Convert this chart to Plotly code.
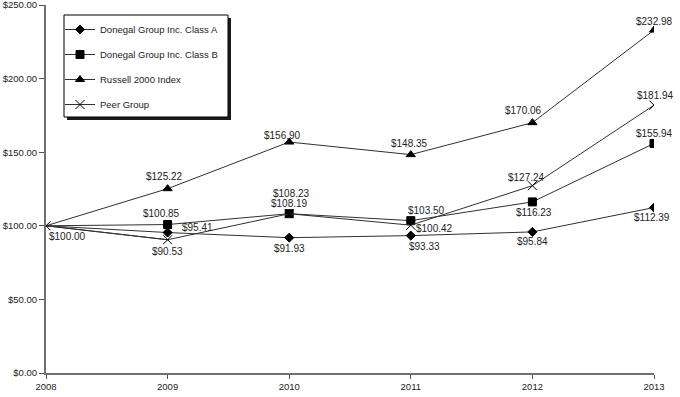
import plotly.graph_objects as go

years = [2008, 2009, 2010, 2011, 2012, 2013]
series_names = ["Donegal Group Inc. Class A", "Donegal Group Inc. Class B",
                "Russell 2000 Index", "Peer Group"]
class_a = [100.00, 95.41, 91.93, 93.33, 95.84, 112.39]
class_b = [100.00, 100.85, 108.23, 103.50, 116.23, 155.94]
russell = [100.00, 125.22, 156.90, 148.35, 170.06, 232.98]
peer = [100.00, 90.53, 108.19, 100.42, 127.24, 181.94]
y_ticks = [0, 50, 100, 150, 200, 250]

series_values = [class_a, class_b, russell, peer]

# styling / label placement (pixel offsets, dy positive = down; None = no label)
symbols = ["diamond", "square", "triangle-up", "x-thin-open"]
sizes = [7, 8, 8, 9]
label_offsets = [
    [None, (30, -5), (0, 11), (14, 11), (0, 10), (-2, 10)],
    [(21, 11), (-6, -11), (2, -20), (16, -10), (2, 11), (0, -10)],
    [None, (-3, -12), (-7, -7), (-1, -11), (-9, -12), (0, -9)],
    [None, (0, 12), (0, -10), (24, 3), (-6, -8), (1, -10)],
]

L, R, T, B = 46, 26, 5, 24
W, H = 680, 397
PW, PH = W - L - R, H - T - B


def px_x(p):
    return (p - L) / PW


def px_y(p):
    return (H - B - p) / PH


fig = go.Figure()
line_color = "#303030"
for i, (name, vals) in enumerate(zip(series_names, series_values)):
    fig.add_trace(go.Scatter(
        x=years[:2], y=vals[:2], mode="lines",
        line=dict(color=line_color, width=1), showlegend=False,
        hoverinfo="skip"))
for i, (name, vals) in enumerate(zip(series_names, series_values)):
    start = 0 if symbols[i] == "x-thin-open" else 1
    fig.add_trace(go.Scatter(
        x=years[start:], y=vals[start:], mode="lines+markers", name=name,
        legendgroup=name,
        line=dict(color=line_color, width=1),
        marker=dict(symbol=symbols[i], size=sizes[i], color="black",
                    line=dict(color="black", width=1)),
    ))

annotations = []
for i, vals in enumerate(series_values):
    for j, v in enumerate(vals):
        off = label_offsets[i][j]
        if off is None:
            continue
        dx, dy = off
        annotations.append(dict(
            x=years[j], y=v, xref="x", yref="y", text=f"${v:,.2f}",
            showarrow=False, xshift=dx, yshift=-dy,
            font=dict(family="Liberation Sans, Arial", size=10, color="#222222"),
            xanchor="center", yanchor="middle"))

shapes = [
    dict(type="rect", xref="paper", yref="paper",
         x0=px_x(67), x1=px_x(231), y0=px_y(120), y1=px_y(18),
         fillcolor="#1a1a1a", line=dict(width=0), layer="above"),
    dict(type="rect", xref="paper", yref="paper",
         x0=px_x(64), x1=px_x(228), y0=px_y(117), y1=px_y(15),
         fillcolor="white", line=dict(color="black", width=1), layer="above"),
]

fig.update_layout(
    width=W, height=H,
    margin=dict(l=L, r=R, t=T, b=B, autoexpand=False),
    paper_bgcolor="white", plot_bgcolor="white",
    font=dict(family="Liberation Sans, Arial", size=10, color="#222222"),
    xaxis=dict(range=[2008, 2013], tickvals=years, ticktext=[str(y) for y in years],
               showgrid=False, zeroline=False, showline=True,
               linecolor="#707070", linewidth=2, ticks="outside", ticklen=4,
               tickcolor="#505050", tickfont=dict(size=9.5),
               ticklabeloverflow="allow", automargin=False),
    yaxis=dict(range=[0, 250], tickvals=y_ticks,
               ticktext=[f"${t:.2f}" for t in y_ticks],
               showgrid=False, zeroline=False, showline=True,
               linecolor="#707070", linewidth=2, ticks="outside", ticklen=5,
               tickcolor="#505050", tickfont=dict(size=9.5),
               ticklabeloverflow="allow", automargin=False),
    legend=dict(x=px_x(60), y=px_y(15), xanchor="left", yanchor="top",
                bgcolor="rgba(0,0,0,0)", borderwidth=0,
                font=dict(size=9.5, color="#222222"),
                tracegroupgap=6, itemwidth=30),
    shapes=shapes,
    annotations=annotations,
    showlegend=True,
)

fig.write_html("out.html", config={"displayModeBar": False},
               post_script="document.body.style.margin='0px';document.body.style.padding='0px';")
